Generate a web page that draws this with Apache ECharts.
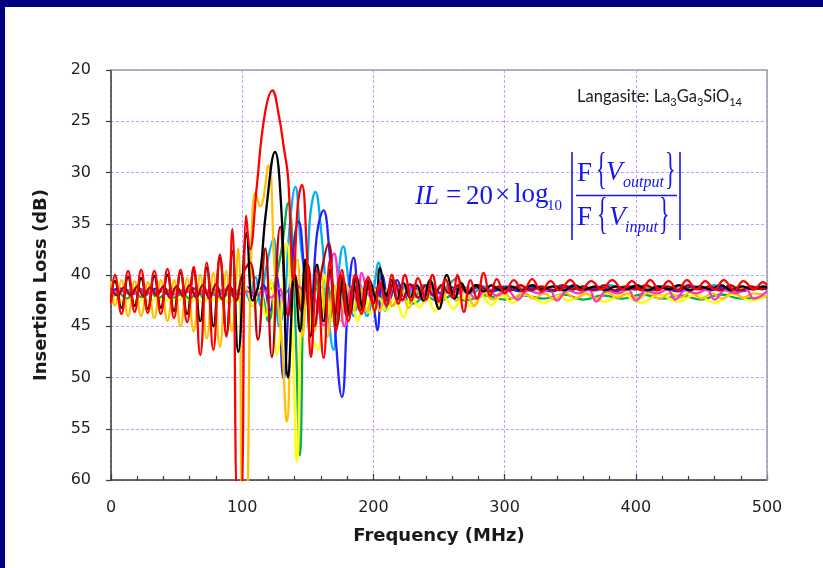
<!DOCTYPE html>
<html><head><meta charset="utf-8">
<script src="https://cdn.jsdelivr.net/npm/echarts@6/dist/echarts.min.js"></script>
<style>html,body{margin:0;padding:0;background:#fff;overflow:hidden;}#c{width:823px;height:568px;}</style>
</head><body><div id="c"></div>
<script>
// ---- data (frequency MHz, insertion loss dB) ----
const xMin = 0, xMax = 500, xStep = 100;
const yMin = 20, yMax = 60, yStep = 5;
const xTitle = 'Frequency (MHz)';
const yTitle = 'Insertion Loss (dB)';
const seriesNames = ['gray','green','lightblue','blue','yellow','orange','magenta','darkred','black','red'];

const red = [[0,42.8],[3,40.0],[8,43.8],[13,39.6],[18,43.6],[23,39.5],[28,43.7],[33,39.6],[38,43.8],[43,39.4],[48,44.2],[53,39.5],[58,44.6],[63,39.2],[68,47.8],[73,38.8],[78,47.3],[83,38.0],[88,46.0],[92.5,35.5],[96.5,62],[99,62],[103,34.2],[106,37.5],[111,31.5],[117,24.5],[123,22.0],[128,24.5],[132,27.8],[135,30.5],[139,40.5],[142.5,33],[145.5,31.2],[149,37],[152.5,48],[157,39.5],[162,48.1],[167,38.5],[171.5,45.5],[176,39.5],[181,44.5],[186,40],[191,43.8],[196,40.2],[201,43.5],[205,40.8],[210,43],[214,40],[219,42.8],[224,40.0],[229,42.5],[234,40.3],[240,42.4],[245,40.0],[250,42.6],[255,40.4],[260,42.2],[264,40.0],[269,43.6],[274,40.5],[279,42.3],[284,39.8],[289,42.0],[294,40.4],[300,41.8],[307,40.5],[314,41.6],[321,40.4],[328,41.6],[335,40.6],[342,41.5],[350,40.5],[358,41.5],[366,40.6],[374,41.4],[382,40.5],[390,41.4],[397,40.6],[404,41.5],[411,40.5],[418,41.4],[425,40.6],[432,41.5],[439,40.5],[446,41.4],[453,40.6],[460,41.4],[467,40.5],[475,41.5],[482,40.6],[490,41.4],[497,40.7],[500,41.0]];

const black = [[0,42.5],[3,40.6],[8,43.2],[13,40.2],[18,43.0],[23,40.3],[28,43.3],[33,40.1],[38,43.2],[43,40.0],[48,43.5],[53,39.8],[58,43.8],[63,39.6],[68,44.5],[73,39.3],[78,45.0],[83,38.3],[88,45.8],[92.5,37.7],[97,47.5],[103.5,35.9],[108,42.5],[113,40.5],[118,34],[125,28.0],[130,34],[135,50],[140,40],[144,45.5],[148,38.5],[152,46],[157,39],[162,44.5],[167,39.5],[172,45],[177,40.5],[182,43.8],[187,40.2],[192,43.2],[197,40.5],[202,42.4],[205,39.3],[210,42],[214,40.5],[218,42.4],[223,40.8],[228,42.2],[233,41],[238,42.5],[243,40.5],[250,43.3],[256,40.0],[262,42.3],[267,40.8],[272,41.8],[278,41],[284,41.6],[290,41.0],[297,41.5],[305,41.1],[313,41.5],[321,41.0],[329,41.4],[337,41.1],[345,41.5],[353,41.0],[361,41.4],[369,41.1],[377,41.5],[385,41.1],[393,41.4],[401,41.0],[409,41.5],[417,41.1],[425,41.4],[433,41.0],[441,41.5],[449,41.1],[457,41.4],[465,41.0],[473,41.5],[481,41.1],[489,41.4],[497,41.1],[500,41.2]];

const orange = [[0,40.6],[3,43.0],[8,40.5],[13,44.0],[18,40.6],[23,44.0],[28,40.7],[33,44.2],[38,40.5],[43,44.5],[48,40.5],[53,45.0],[58,40.3],[63,45.5],[68,40.0],[73,46.2],[78,39.8],[83,47.0],[88,39.6],[92,45.5],[97,37.4],[100.5,62],[103,62],[106.5,40],[110,32],[113.7,33.3],[120,29.3],[125,40],[130,46],[134,54.3],[138,43],[142,38.5],[146,46],[150,40.5],[155,45.5],[160,40],[165,46],[170,41],[175,44.5],[180,41],[185,43.5],[190,41.2],[195,43.6],[200,41.3],[205,43.5],[210,41.5],[215,43],[221,41.4],[227,43.2],[233,41.5],[239,42.6],[245,41.3],[251,42.8],[257,41.5],[263,42.5],[270,41.6],[277,43.0],[284,41.7],[291,42.4],[298,41.6],[306,42.3],[314,41.7],[322,42.3],[330,41.8],[338,42.4],[346,41.7],[354,42.3],[362,41.8],[370,42.3],[378,41.7],[386,42.2],[394,41.8],[402,42.3],[410,41.7],[418,42.3],[426,41.8],[434,42.2],[442,41.7],[450,42.3],[458,41.8],[466,42.3],[474,41.7],[482,42.2],[490,41.8],[500,42.1]];

const yellow = [[0,42.8],[5,42.3],[10,42.7],[15,42.4],[20,42.7],[25,42.3],[30,42.6],[35,42.2],[40,42.6],[45,42.3],[50,42.6],[55,42.2],[60,42.6],[65,42.3],[70,42.7],[75,42.1],[80,42.6],[85,42.2],[90,42.7],[95,42.3],[99,42.8],[103,41.2],[108,43],[113,41.5],[118,44],[122,40.5],[126.5,47.8],[134,36.9],[138,45],[141.7,58.2],[145,44],[149,38.4],[153.5,46],[158,47.3],[163,40],[168,44.5],[173,41],[178,45],[183,42],[188,44.5],[193,41.8],[198,43.8],[204,42.2],[210,43.5],[216,42.2],[223,44.1],[229,42],[235,43.2],[241,42.1],[247,43.5],[254,42.2],[261,43.3],[268,42.2],[275,43.1],[282,42.0],[290,42.9],[298,42.0],[306,42.7],[316,41.9],[330,42.7],[342,42.0],[348,42.5],[362,41.9],[376,42.6],[390,41.9],[404,42.7],[418,41.9],[432,42.6],[446,41.9],[460,42.7],[474,41.9],[488,42.5],[500,42.0]];

const green = [[0,42.3],[6,41.8],[12,42.3],[18,41.8],[24,42.2],[30,41.7],[36,42.3],[42,41.8],[48,42.2],[54,41.8],[60,42.3],[66,41.7],[72,42.4],[78,41.7],[84,42.3],[90,41.8],[96,42.4],[102,41.6],[108,43],[114,41.8],[120,44.5],[125,41],[130,37.5],[135,33],[140,43],[144,57.6],[148,40],[152,43.5],[156,40.2],[160,44],[165,41],[170,44.5],[175,41.2],[180,44],[185,42],[190,43.5],[196,41.8],[202,43],[208,42],[214,43],[222,42],[230,42.8],[240,42.1],[250,42.6],[260,42],[270,42.5],[285,42.0],[300,42.4],[315,42.0],[330,42.3],[345,41.9],[360,42.4],[375,42.0],[390,42.3],[405,41.9],[420,42.3],[435,42.0],[450,42.4],[465,41.9],[480,42.3],[500,42.1]];

const lightblue = [[0,41.4],[5,41.9],[10,41.3],[15,41.8],[20,41.3],[25,41.9],[30,41.2],[35,41.8],[40,41.3],[45,41.9],[50,41.2],[55,41.8],[60,41.3],[65,41.9],[70,41.2],[75,41.8],[80,41.1],[85,41.9],[90,41.2],[95,41.8],[100,41.2],[105,42.2],[110,40.2],[114,43],[118,39.5],[124,36.4],[128,45],[132,43],[136,35.5],[140.5,31.4],[145,37.5],[148.5,40],[152,34],[155.7,31.9],[160,35.5],[165,43],[169.5,47.3],[173,40.5],[177,37.2],[181,40.5],[185,44],[190,41],[195,44],[200,41.5],[204,38.8],[209,43.5],[214,40.5],[219,42.5],[225,41],[231,42.2],[238,41],[245,42],[252,41.2],[260,41.8],[268,41.1],[276,41.7],[284,41.1],[292,41.6],[300,41.1],[310,41.5],[320,41.1],[330,41.5],[340,41.1],[350,41.5],[360,41.1],[370,41.5],[380,41.0],[390,41.4],[400,41.1],[410,41.5],[420,41.1],[430,41.5],[440,41.1],[450,41.4],[460,41.0],[470,41.5],[480,41.1],[490,41.4],[500,41.2]];

const blue = [[0,41.6],[7,41.3],[14,41.8],[21,41.4],[28,41.7],[35,41.3],[42,41.8],[49,41.4],[56,41.7],[63,41.3],[70,41.8],[77,41.4],[84,41.7],[91,41.3],[98,41.9],[104,41.2],[110,42.2],[116,41],[121,43.5],[126,40],[131.5,50.1],[137,40],[143,34.8],[148,40.5],[152,44],[157,36],[162,33.7],[166,37],[170,44],[176,51.9],[181,42],[185,38.3],[190,42.5],[195,41],[200,43],[203,45.4],[207,40],[212,42.5],[218,40.5],[224,42.2],[230,41],[237,42],[244,41.2],[252,41.8],[260,41.2],[270,41.7],[280,41.2],[290,41.6],[300,41.2],[312,41.6],[324,41.2],[336,41.6],[348,41.1],[360,41.5],[372,41.2],[384,41.6],[396,41.1],[408,41.5],[420,41.2],[432,41.6],[444,41.1],[456,41.5],[468,41.2],[480,41.6],[492,41.2],[500,41.4]];

const magenta = [[0,41.8],[8,41.5],[16,41.9],[24,41.5],[32,41.8],[40,41.4],[48,41.9],[56,41.5],[64,41.8],[72,41.5],[80,42.0],[88,41.4],[96,41.9],[104,41.6],[110,42],[116,41.5],[122,42.2],[128,41.3],[134,43.6],[140,41],[148,41.5],[155,42.2],[162,44.9],[166,40.5],[170,37.9],[174,41.5],[178,45],[183,41.5],[188,42.5],[191,39.8],[196,41.8],[200,42.4],[205,40.5],[210,43],[216,41],[222,42.5],[228,41.2],[235,42.3],[243,40.8],[248,42.5],[255,41.5],[262,42],[270,41.3],[278,42.3],[286,41.4],[294,42.0],[302,41.5],[310,42.4],[318,41.5],[326,41.8],[334,41.4],[340,42.5],[348,41.5],[356,41.8],[364,41.4],[370,42.6],[378,41.5],[386,41.8],[394,41.4],[400,42.5],[408,41.5],[416,41.8],[424,41.4],[430,42.4],[438,41.5],[446,41.8],[454,41.4],[460,42.4],[468,41.5],[476,41.8],[484,41.4],[490,42.3],[500,41.6]];

const darkred = [[0,41.3],[5,42.0],[10,41.2],[15,42.0],[20,41.1],[25,42.1],[30,41.2],[35,42.0],[40,41.1],[45,42.2],[50,41.1],[55,42.1],[60,41.0],[65,42.2],[70,41.0],[75,42.3],[80,40.9],[85,42.4],[90,41.0],[95,42.5],[100,40],[106,38.8],[112,46.3],[117.6,37.4],[122.6,48],[129,35.3],[135,44],[140,40],[145,43.5],[150,39],[155,45],[160,40],[166,36.9],[170.5,44],[175,40],[180,44],[185,41],[190,43.5],[195,40.5],[200,42.8],[205,40.8],[210,42.5],[216,40.6],[222,42.4],[228,40.9],[234,42.2],[240,41],[246,42],[252,41],[258,41.8],[265,41],[272,41.7],[280,41.0],[288,41.6],[296,41.1],[304,41.5],[312,41.0],[320,41.5],[328,41.1],[336,41.5],[344,41.0],[352,41.4],[360,41.1],[368,41.5],[376,41.0],[384,41.5],[392,41.1],[400,41.4],[408,41.0],[416,41.5],[424,41.1],[432,41.5],[440,41.0],[448,41.4],[456,41.1],[464,41.5],[472,41.0],[480,41.5],[488,41.1],[496,41.4],[500,41.2]];

const gray = [[0,41.4],[10,41.6],[20,41.3],[30,41.6],[40,41.4],[50,41.6],[60,41.3],[70,41.6],[80,41.4],[90,41.6],[100,41.4],[110,41.8],[120,41.2],[130,42],[140,41],[150,42],[160,41.2],[170,42],[180,41],[190,41.8],[200,41.2],[210,41.8],[220,41.0],[230,41.6],[240,41.0],[250,41.8],[257,41.0],[264,40.3],[270,41.5],[280,41.0],[290,41.5],[300,41.1],[320,41.4],[340,41.1],[360,41.4],[380,41.1],[400,41.4],[420,41.1],[440,41.4],[460,41.1],[480,41.4],[500,41.2]];

const seriesData = {red, black, orange, yellow, green, lightblue, blue, magenta, darkred, gray};
const seriesColors = {red:'#FF0000', black:'#000000', orange:'#FFC000', yellow:'#FFFF00', green:'#00B050', lightblue:'#00B0F0', blue:'#2323FF', magenta:'#FF33CC', darkred:'#C00000', gray:'#808080'};

// ---- chart ----
const chart = echarts.init(document.getElementById('c'), null, {renderer:'canvas'});
const G = {left:111, top:70, right:767, bottom:480};
const tickFont = "'DejaVu Sans', Verdana, sans-serif";
const blueF = '#1515F0';
const serif = "'Liberation Serif', 'Times New Roman', serif";

function txt(text, x, y, font, opts) {
  opts = opts || {};
  return {type:'text', z: 50, x, y, rotation: opts.rotation || 0, scaleX: opts.sx || 1,
    style:{text, font, fill: opts.fill || blueF, align: opts.align || 'left', verticalAlign: opts.va || 'middle',
           textAlign: opts.align || 'left', textVerticalAlign: opts.va || 'middle'}};
}

const graphics = [
  {type:'rect', z:0, shape:{x:0,y:0,width:823,height:7}, style:{fill:'#000080'}},
  {type:'rect', z:0, shape:{x:0,y:0,width:5,height:568}, style:{fill:'#000080'}},
  {type:'polyline', z:1, shape:{points:[[G.left,G.top],[G.right,G.top],[G.right,G.bottom]]}, style:{stroke:'#A09AAE', lineWidth:1.5, fill:null}},
  txt(yTitle, 41, 285, "bold 18px 'DejaVu Sans', Verdana, sans-serif", {fill:'#1a1a1a', align:'center', rotation:Math.PI/2}),
  // Langasite label
  {type:'text', z:50, x:577, y:97, style:{
    text:'{a|Langasite: La}{s|3}{a|Ga}{s|3}{a|SiO}{s|14}', align:'left', verticalAlign:'middle',
    textAlign:'left', textVerticalAlign:'middle',
    rich:{a:{font:"16.5px Lato, 'Open Sans', sans-serif", fill:'#1a1a1a', color:'#1a1a1a', lineHeight:22, verticalAlign:'middle'},
          s:{font:"11px Lato, 'Open Sans', sans-serif", fill:'#1a1a1a', color:'#1a1a1a', lineHeight:11, verticalAlign:'bottom'}}}},
  // formula
  txt('IL', 415, 197, "italic 27px " + serif),
  txt('=', 446, 196, "27px " + serif),
  txt('20', 466, 197, "27px " + serif),
  txt('\u00D7', 495, 196, "27px " + serif),
  txt('log', 514, 195, "27px " + serif),
  txt('10', 547, 206, "15px " + serif),
  {type:'line', z:50, shape:{x1:572, y1:152, x2:572, y2:240}, style:{stroke:blueF, lineWidth:1.6}},
  {type:'line', z:50, shape:{x1:680, y1:152, x2:680, y2:240}, style:{stroke:blueF, lineWidth:1.6}},
  {type:'line', z:50, shape:{x1:576, y1:195.5, x2:677, y2:195.5}, style:{stroke:blueF, lineWidth:1.3}},
  txt('F', 577, 174, "27px " + serif),
  txt('{', 596, 171, "44px " + serif, {sx:0.5}),
  txt('V', 606, 173, "italic 27px " + serif),
  txt('output', 623, 183, "italic 16px " + serif),
  txt('}', 665, 171, "44px " + serif, {sx:0.5}),
  txt('F', 577, 218, "27px " + serif),
  txt('{', 597, 216, "44px " + serif, {sx:0.5}),
  txt('V', 609, 218, "italic 27px " + serif),
  txt('input', 625, 228, "italic 16px " + serif),
  txt('}', 659, 216, "44px " + serif, {sx:0.5})
];

const series = seriesNames.map(n => ({
  name: n, type:'line', data: seriesData[n], showSymbol:false, smooth:0.45,
  color: seriesColors[n], lineStyle:{color: seriesColors[n], width:2.3}, clip:true, z:2
}));

chart.setOption({
  animation:false,
  backgroundColor:'#ffffff',
  grid:{left:G.left, top:G.top, width:G.right-G.left, height:G.bottom-G.top, containLabel:false},
  xAxis:{type:'value', min:xMin, max:xMax, interval:xStep,
    name:xTitle, nameLocation:'middle', nameGap:47,
    nameTextStyle:{fontFamily:tickFont, fontWeight:'bold', fontSize:18, color:'#1a1a1a'},
    axisLine:{show:true, onZero:false, lineStyle:{color:'#3a3a3a', width:1.5}},
    axisTick:{show:true, inside:true, length:6, lineStyle:{color:'#3a3a3a', width:1.2}},
    minorTick:{show:true, splitNumber:5, length:4, lineStyle:{color:'#3a3a3a', width:1.2}},
    axisLabel:{margin:20, fontFamily:tickFont, fontSize:16, color:'#1f1f1f'},
    splitLine:{show:true, lineStyle:{color:'#CC99FF', type:[3,2], width:1}}},
  yAxis:{type:'value', min:yMin, max:yMax, interval:yStep, inverse:true,
    axisLine:{show:true, onZero:false, lineStyle:{color:'#3a3a3a', width:1.5}},
    axisTick:{show:true, inside:false, length:5, lineStyle:{color:'#3a3a3a', width:1.2}},
    axisLabel:{margin:20, fontFamily:tickFont, fontSize:16, color:'#1f1f1f'},
    splitLine:{show:true, lineStyle:{color:'#CC99FF', type:[3,2], width:1}}},
  graphic:{elements:graphics},
  series
});
</script></body></html>
